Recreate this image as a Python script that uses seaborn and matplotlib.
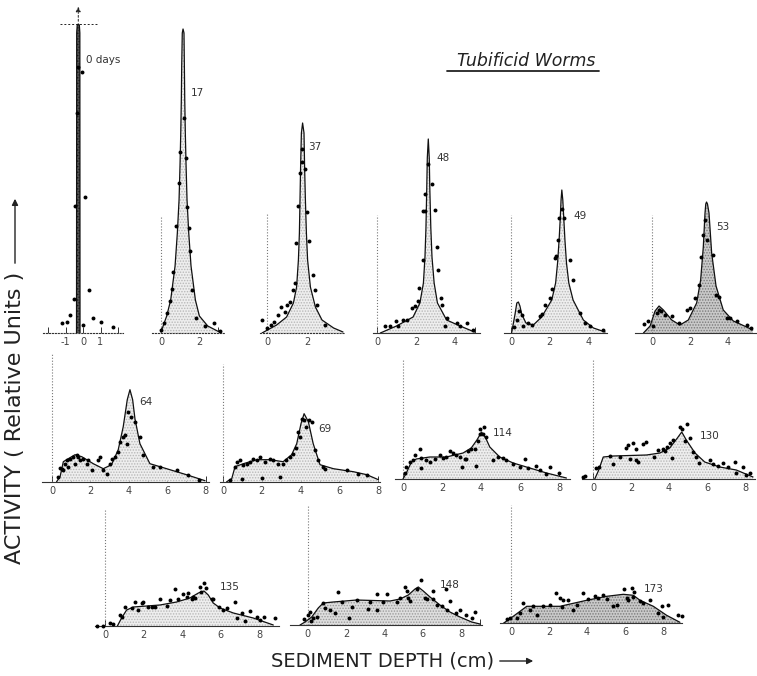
import matplotlib
matplotlib.use("Agg")
import matplotlib.pyplot as plt
from matplotlib.patches import FancyArrowPatch
from matplotlib.lines import Line2D
import seaborn as sns
import math

W, H = 757, 676
YPX = 10  # pixels per activity unit

# ---------------- data (depth in cm, activity in relative units) ----------------
curve0_x = [-0.37, -0.36, -0.33, -0.27, -0.21, -0.18, -0.17]
curve0_y = [0.0, 30.0, 30.8, 30.9, 30.8, 30.0, 0.0]
dots0_x = [-0.29, -0.06, -0.34, -0.46, 0.11, -0.51, 0.34, -0.74, 0.57, -1.2, -0.91, 1.03, 1.71, 0.0]
dots0_y = [26.6, 26.1, 22.0, 12.7, 13.6, 3.4, 4.3, 1.8, 1.5, 1.0, 1.1, 1.1, 0.6, 0.8]

curve17_x = [0.0, 0.3, 0.51, 0.74, 0.86, 0.95, 1.0, 1.04, 1.07, 1.09, 1.12, 1.16, 1.21, 1.23,
             1.25, 1.28, 1.32, 1.37, 1.46, 1.58, 1.81, 2.02, 2.46, 3.07]
curve17_y = [0.1, 1.7, 3.3, 6.7, 10.0, 13.3, 16.7, 20.0, 23.3, 26.7, 30.0, 30.4, 30.0, 26.7,
             23.3, 20.0, 16.7, 13.3, 10.0, 6.7, 3.3, 1.7, 0.7, 0.1]
dots17_x = [1.21, 1.0, 1.32, 0.95, 1.37, 0.79, 1.47, 1.53, 0.63, 1.63, 0.58, 0.47, 0.32, 0.16,
            0.0, 1.84, 2.32, 2.79, 3.1]
dots17_y = [21.5, 18.1, 17.5, 15.0, 12.6, 10.7, 10.5, 8.2, 6.1, 4.3, 4.4, 3.2, 2.0, 1.0,
            0.3, 1.5, 0.7, 1.0, 0.2]

curve37_x = [-0.25, 0.48, 0.98, 1.32, 1.48, 1.57, 1.62, 1.65, 1.68, 1.72, 1.78, 1.85, 1.88,
             1.92, 1.97, 2.03, 2.17, 2.42, 2.75, 3.33, 3.8]
curve37_y = [0.0, 0.8, 1.6, 3.0, 4.6, 7.3, 10.0, 13.3, 16.6, 20.0, 21.0, 20.0, 16.6,
             13.3, 10.0, 7.3, 4.6, 2.6, 1.3, 0.5, 0.1]
dots37_x = [1.77, 1.75, 1.65, 1.9, 1.55, 2.0, 2.1, 1.45, 2.3, 1.4, 2.4, 2.5, 1.3, 1.15, 1.0,
            0.9, 0.7, 0.55, 0.35, 0.2, 0.0, -0.25, 2.9]
dots37_y = [18.4, 17.1, 16.0, 16.4, 12.7, 12.1, 9.2, 9.0, 5.8, 5.0, 4.3, 2.8, 4.3, 3.1, 2.8,
            2.1, 2.6, 1.8, 1.1, 0.8, 0.5, 1.3, 0.8]

curve48_x = [0.17, 1.0, 1.85, 2.2, 2.38, 2.46, 2.51, 2.55, 2.58, 2.63, 2.68, 2.71, 2.76, 2.82,
             2.93, 3.1, 3.57, 4.26, 5.0]
curve48_y = [0.0, 0.7, 1.6, 3.0, 5.0, 7.6, 10.5, 14.3, 17.5, 19.4, 17.5, 14.3, 10.5, 7.6,
             5.0, 3.0, 1.3, 0.7, 0.1]
dots48_x = [2.63, 2.8, 2.46, 2.37, 2.46, 2.97, 3.06, 2.34, 3.11, 2.17, 3.26, 3.31, 2.12, 1.78,
            1.95, 3.57, 3.49, 4.09, 4.6, 4.26, 1.52, 1.35, 0.97, 1.09, 0.67, 0.41, 4.9]
dots48_y = [16.9, 14.9, 13.9, 12.2, 12.2, 12.3, 8.6, 7.3, 6.3, 4.5, 3.5, 2.8, 3.2, 2.5,
            2.7, 1.5, 0.7, 1.0, 1.0, 0.7, 1.3, 1.3, 1.2, 0.7, 0.7, 0.7, 0.3]

curve49_x = [0.03, 0.2, 0.3, 0.38, 0.46, 0.55, 0.77, 1.15, 1.58, 2.1, 2.3, 2.4, 2.48, 2.54,
             2.58, 2.62, 2.67, 2.72, 2.78, 2.86, 2.98, 3.2, 3.73, 4.25, 4.85]
curve49_y = [0.0, 1.8, 3.0, 3.1, 2.7, 1.9, 1.0, 0.8, 1.6, 3.3, 5.0, 7.0, 9.3, 11.5,
             13.3, 14.3, 13.3, 11.5, 9.3, 7.0, 5.0, 3.3, 1.3, 0.5, 0.1]
dots49_x = [2.64, 2.47, 2.73, 2.32, 2.27, 3.04, 2.4, 3.2, 2.1, 2.01, 1.75, 1.58, 1.5, 3.56,
            3.82, 4.07, 4.72, 0.41, 0.55, 0.64, 0.3, 0.9, 1.1, 0.17]
dots49_y = [12.4, 11.5, 11.5, 7.7, 7.5, 7.3, 9.3, 5.3, 4.4, 3.5, 2.8, 1.9, 1.7, 2.0,
            1.0, 0.7, 0.3, 2.2, 1.8, 0.7, 1.3, 1.0, 0.8, 0.6]

curve53_x = [-0.45, -0.1, 0.16, 0.37, 0.6, 1.04, 1.47, 1.91, 2.35, 2.56, 2.7, 2.79, 2.83,
             2.87, 2.92, 3.0, 3.14, 3.37, 3.75, 4.28, 4.98, 5.3]
curve53_y = [0.0, 0.7, 2.2, 2.7, 2.3, 1.3, 0.8, 1.3, 3.0, 5.3, 8.6, 12.0, 12.9,
             13.1, 12.9, 12.0, 8.0, 4.7, 2.3, 1.2, 0.6, 0.3]
dots53_x = [2.79, 2.7, 2.91, 2.6, 3.22, 2.49, 3.37, 3.5, 2.26, 2.0, 1.83, 3.93, 4.1, 4.46,
            5.0, 0.37, 0.25, 0.49, 0.67, 1.04, 1.44, -0.42, -0.2, 0.07, 5.2]
dots53_y = [11.3, 9.8, 9.3, 7.6, 7.8, 4.8, 3.8, 3.6, 3.5, 2.5, 2.3, 1.5, 1.5, 1.2,
            0.8, 2.3, 2.0, 2.2, 1.8, 1.7, 1.0, 0.9, 1.2, 0.7, 0.5]

curve64_x = [0.24, 0.42, 0.59, 0.85, 1.2, 1.55, 2.15, 2.67, 3.1, 3.45, 3.71, 3.92, 4.06,
             4.2, 4.32, 4.58, 5.1, 5.97, 7.0, 7.97]
curve64_y = [0.0, 0.5, 2.0, 2.3, 2.7, 2.5, 1.8, 1.3, 1.7, 3.2, 5.5, 8.2, 9.2,
             8.2, 6.3, 3.8, 1.8, 1.3, 0.7, 0.1]
dots64_x = [3.97, 4.1, 4.32, 3.8, 3.68, 3.89, 4.58, 3.54, 3.45, 4.75, 3.28, 3.1, 5.28, 5.62,
            6.49, 7.07, 7.67, 2.5, 2.42, 2.67, 2.84, 2.07, 1.8, 1.63, 1.46, 1.29, 1.37, 1.11,
            0.94, 0.76, 0.68, 0.5, 0.59, 0.33, 0.85, 1.2, 1.89, 3.0, 0.42]
dots64_y = [7.0, 6.5, 6.0, 4.7, 4.5, 3.8, 4.5, 4.0, 3.0, 2.7, 2.5, 2.3, 1.5, 1.5,
            1.2, 0.7, 0.2, 2.5, 2.2, 1.2, 0.8, 1.2, 1.8, 2.3, 2.2, 2.7, 2.5, 2.5,
            2.3, 2.2, 1.8, 1.3, 1.2, 0.5, 1.5, 1.8, 2.2, 1.8, 1.4]

curve69_x = [0.19, 0.45, 0.62, 1.05, 1.74, 2.42, 3.1, 3.54, 3.8, 4.02, 4.18, 4.4, 4.65, 5.0,
             5.69, 6.72, 7.41, 8.01]
curve69_y = [0.0, 0.3, 1.5, 1.8, 2.2, 2.2, 2.0, 2.7, 3.8, 5.8, 6.8, 6.0, 3.8, 1.7,
             1.3, 1.0, 0.7, 0.2]
dots69_x = [4.05, 4.18, 4.45, 4.57, 4.3, 3.88, 3.97, 3.76, 4.74, 3.62, 4.91, 5.13, 5.24, 6.38,
            6.97, 7.4, 0.62, 0.71, 0.88, 1.05, 1.22, 1.4, 1.56, 1.74, 1.91, 2.16, 2.42, 2.6,
            2.85, 3.1, 3.27, 3.44, 0.97, 1.99, 2.94, 0.36]
dots69_y = [6.3, 6.2, 6.2, 6.0, 5.5, 5.0, 4.5, 3.4, 3.2, 2.8, 2.2, 1.5, 1.3, 1.2,
            0.8, 0.7, 1.5, 2.0, 2.2, 1.7, 1.8, 2.0, 2.3, 2.2, 2.5, 2.0, 2.3, 2.2,
            1.8, 1.8, 2.2, 2.5, 0.3, 0.4, 0.5, 0.2]

curve114_x = [0.0, 0.17, 0.43, 0.68, 1.37, 2.22, 3.08, 3.5, 3.79, 4.03, 4.24, 4.45, 4.96,
              5.65, 6.5, 7.36, 8.38]
curve114_y = [0.0, 0.6, 1.7, 2.0, 2.2, 2.2, 2.6, 3.1, 3.9, 4.7, 4.1, 3.2, 2.2,
              1.6, 1.1, 0.6, 0.1]
dots114_x = [3.94, 4.17, 3.94, 4.1, 3.85, 4.27, 3.68, 3.5, 3.33, 3.25, 3.16, 2.91, 2.73, 2.56,
             2.4, 2.22, 2.05, 1.88, 1.63, 1.37, 1.2, 0.94, 0.85, 0.6, 0.51, 0.34, 0.17, 0.09,
             0.94, 3.0, 3.76, 4.62, 4.88, 5.13, 5.3, 5.64, 5.98, 6.24, 6.41, 6.84, 7.0, 7.52,
             7.35, 8.0]
dots114_y = [5.0, 5.2, 4.5, 4.5, 3.8, 4.2, 3.0, 3.0, 2.8, 2.0, 2.0, 2.2, 2.4, 2.6,
             2.8, 2.2, 2.1, 2.4, 2.0, 1.7, 1.9, 2.1, 3.0, 2.4, 1.9, 1.7, 1.2, 0.6,
             1.1, 1.2, 1.3, 1.9, 2.2, 2.1, 1.9, 1.5, 1.2, 2.0, 1.1, 1.3, 0.9, 1.2,
             0.5, 0.6]

curve130_x = [0.09, 0.28, 0.54, 1.07, 2.82, 3.52, 4.04, 4.44, 4.67, 4.91, 5.37, 5.88, 6.67,
              7.54, 8.42]
curve130_y = [0.0, 0.8, 2.2, 2.3, 2.4, 2.6, 3.1, 4.1, 4.7, 3.9, 2.6, 1.7, 1.2,
              0.9, 0.2]
dots130_x = [4.58, 4.7, 4.93, 5.09, 4.83, 4.23, 4.05, 3.91, 3.79, 3.7, 3.44, 3.19, 4.14, 5.26,
             5.44, 5.6, 6.14, 6.32, 6.58, 6.84, 7.1, 7.46, 7.54, 7.89, 8.07, 8.25, 1.07, 0.89,
             1.75, 1.84, 2.1, 2.63, 2.81, 2.28, 2.28, 2.37, 1.93, 1.4, 0.18, 0.32, -0.53, -0.4]
dots130_y = [5.2, 5.0, 5.5, 4.1, 3.8, 3.9, 3.6, 3.2, 2.8, 3.0, 2.9, 2.2, 2.1, 2.7,
             2.2, 1.6, 1.9, 1.5, 1.3, 1.6, 1.2, 1.7, 0.6, 1.2, 0.4, 0.6, 1.5, 2.3,
             3.1, 3.4, 3.6, 3.5, 3.7, 3.0, 1.9, 1.7, 2.0, 2.2, 1.1, 1.2, 0.2, 0.3]

curve135_x = [0.64, 0.86, 1.12, 1.47, 2.16, 2.85, 3.71, 4.4, 4.84, 5.13, 5.35, 5.61, 5.96,
              6.65, 7.68, 8.72]
curve135_y = [0.0, 0.8, 1.6, 1.9, 2.0, 2.1, 2.4, 2.8, 3.3, 3.5, 3.1, 2.3, 1.8,
              1.3, 0.8, 0.1]
dots135_x = [5.13, 4.92, 5.23, 4.97, 4.58, 4.5, 4.66, 3.63, 4.06, 4.23, 4.32, 3.8, 3.37, 2.85,
             1.99, 1.92, 1.55, 1.38, 1.04, 1.72, 2.24, 2.41, 2.59, 3.19, 5.53, 5.62, 5.93, 6.13,
             6.3, 6.74, 7.08, 6.82, 7.26, 7.52, 7.86, 8.03, 8.24, 8.81, 0.78, 0.86, 0.26, 0.43,
             -0.4, -0.1]
dots135_y = [4.3, 3.9, 3.8, 3.4, 2.9, 2.7, 2.8, 3.7, 3.2, 2.9, 3.3, 2.7, 2.6, 2.7,
             2.4, 2.3, 2.4, 1.8, 1.9, 1.6, 1.9, 1.9, 1.9, 2.0, 2.7, 2.7, 1.9, 1.6,
             1.8, 2.4, 1.3, 0.8, 0.5, 1.5, 0.9, 0.6, 0.9, 0.8, 1.1, 0.9, 0.3, 0.2,
             0.0, 0.0]

curve148_x = [-0.39, -0.13, 0.22, 0.56, 0.82, 1.34, 2.56, 4.3, 4.82, 5.25, 5.6, 5.77, 6.03,
              6.38, 6.9, 7.42, 7.94, 8.55, 8.98]
curve148_y = [0.0, 0.3, 0.8, 1.7, 2.2, 2.3, 2.5, 2.4, 2.6, 3.0, 3.6, 3.8, 3.4,
              2.8, 2.0, 1.3, 0.8, 0.3, 0.1]
dots148_x = [5.91, 5.08, 5.16, 5.68, 5.25, 5.34, 6.12, 6.2, 6.55, 6.52, 7.21, 7.42, 6.72, 6.98,
             7.24, 7.76, 7.94, 8.28, 8.55, 8.72, 3.6, 4.12, 4.82, 4.64, 3.95, 3.25, 3.6, 3.16,
             2.56, 2.3, 2.18, 1.78, 1.6, 1.43, 1.17, 0.91, 0.82, 0.48, 0.3, 0.13, 0.05, -0.2,
             0.17]
dots148_y = [4.5, 3.8, 3.4, 3.6, 2.7, 2.4, 2.7, 2.6, 2.6, 3.4, 3.6, 2.4, 2.0, 1.9,
             1.5, 1.2, 1.5, 1.0, 0.7, 1.3, 3.1, 3.1, 2.7, 2.3, 2.3, 2.3, 1.5, 1.6,
             2.5, 1.8, 0.7, 2.3, 3.3, 1.2, 1.5, 1.7, 2.2, 0.8, 0.7, 1.3, 1.0, 0.6,
             0.4]

curve173_x = [-0.4, 0.12, 0.83, 1.53, 2.58, 3.98, 5.04, 5.91, 6.44, 6.79, 7.49, 8.19, 8.89]
curve173_y = [0.0, 0.7, 1.7, 1.7, 1.7, 2.3, 2.7, 2.9, 2.8, 2.3, 1.7, 0.8, 0.1]
dots173_x = [5.95, 6.35, 6.47, 6.44, 6.09, 6.18, 6.79, 6.96, 7.31, 7.93, 8.28, 7.75, 8.0, 8.81,
             8.98, 2.37, 2.58, 2.75, 3.02, 3.81, 4.07, 4.42, 4.6, 4.86, 5.04, 5.39, 5.56, 3.28,
             3.46, 2.67, 2.05, 1.7, 1.18, 0.65, 1.0, 0.47, 0.3, -0.05, -0.23, 1.35]
dots173_y = [3.4, 3.5, 3.1, 2.6, 2.5, 2.3, 2.2, 2.0, 2.3, 1.7, 1.8, 1.0, 0.6, 0.8,
             0.7, 3.0, 2.5, 2.3, 2.3, 3.0, 2.4, 2.7, 2.5, 2.8, 2.4, 1.7, 1.8, 1.3,
             1.8, 1.6, 1.8, 1.7, 1.7, 2.0, 1.3, 1.0, 0.5, 0.5, 0.4, 0.8]

day_labels = ["0 days", "17", "37", "48", "49", "53", "64", "69", "114", "130", "135", "148", "173"]

# ---------------- layout (pixel geometry of each small panel) ----------------
LIGHT = ("#eeeeee", "#b8b8b8")
MID = ("#dedede", "#9a9a9a")
DARK = ("#c9c9c9", "#7a7a7a")

panels = [
    dict(cx=curve0_x, cy=curve0_y, dx=dots0_x, dy=dots0_y, x0=83, ppu=17.5, base=333,
         xlim=(-2.3, 2.3), vtop=None, lab=(0.17, 27.3), ticks=[-1, 0, 1], dotted=True,
         shade=("#5a5a5a", "#111111")),
    dict(cx=curve17_x, cy=curve17_y, dx=dots17_x, dy=dots17_y, x0=161, ppu=19, base=333,
         xlim=(-0.5, 3.3), vtop=11.7, lab=(1.9, 24.0), ticks=[0, 2], dotted=True, shade=LIGHT),
    dict(cx=curve37_x, cy=curve37_y, dx=dots37_x, dy=dots37_y, x0=267, ppu=20, base=333,
         xlim=(-0.35, 3.9), vtop=12.0, lab=(2.4, 18.6), ticks=[0, 2], dotted=True, shade=LIGHT),
    dict(cx=curve48_x, cy=curve48_y, dx=dots48_x, dy=dots48_y, x0=377, ppu=19.5, base=333,
         xlim=(-0.2, 5.3), vtop=11.8, lab=(3.38, 17.5), ticks=[0, 2, 4], dotted=False, shade=LIGHT),
    dict(cx=curve49_x, cy=curve49_y, dx=dots49_x, dy=dots49_y, x0=511, ppu=19.4, base=333,
         xlim=(-0.35, 4.95), vtop=11.8, lab=(3.56, 11.7), ticks=[0, 2, 4], dotted=False, shade=LIGHT),
    dict(cx=curve53_x, cy=curve53_y, dx=dots53_x, dy=dots53_y, x0=652, ppu=19, base=333,
         xlim=(-0.9, 5.5), vtop=11.8, lab=(3.74, 10.6), ticks=[0, 2, 4], dotted=False, shade=DARK),
    dict(cx=curve64_x, cy=curve64_y, dx=dots64_x, dy=dots64_y, x0=52, ppu=19.2, base=481.7,
         xlim=(-0.52, 8.2), vtop=12.8, lab=(4.88, 8.0), ticks=[0, 2, 4, 6, 8], dotted=False, shade=LIGHT),
    dict(cx=curve69_x, cy=curve69_y, dx=dots69_x, dy=dots69_y, x0=223, ppu=19.4, base=481.7,
         xlim=(-0.15, 8.1), vtop=11.8, lab=(5.26, 5.3), ticks=[0, 2, 4, 6, 8], dotted=False, shade=LIGHT),
    dict(cx=curve114_x, cy=curve114_y, dx=dots114_x, dy=dots114_y, x0=403, ppu=19.5, base=479,
         xlim=(-0.4, 8.55), vtop=12.0, lab=(5.14, 4.6), ticks=[0, 2, 4, 6, 8], dotted=False, shade=LIGHT),
    dict(cx=curve130_x, cy=curve130_y, dx=dots130_x, dy=dots130_y, x0=593, ppu=19, base=479,
         xlim=(-0.6, 8.5), vtop=12.0, lab=(6.16, 4.3), ticks=[0, 2, 4, 6, 8], dotted=False, shade=LIGHT),
    dict(cx=curve135_x, cy=curve135_y, dx=dots135_x, dy=dots135_y, x0=105, ppu=19.3, base=626,
         xlim=(-0.52, 9.0), vtop=11.6, lab=(6.48, 3.9), ticks=[0, 2, 4, 6, 8], dotted=False, shade=LIGHT),
    dict(cx=curve148_x, cy=curve148_y, dx=dots148_x, dy=dots148_y, x0=307.5, ppu=19.2, base=625,
         xlim=(-0.9, 9.1), vtop=12.0, lab=(7.42, 4.0), ticks=[-1, 0, 2, 4, 6, 8], dotted=False, shade=MID),
    dict(cx=curve173_x, cy=curve173_y, dx=dots173_x, dy=dots173_y, x0=511, ppu=19, base=623.3,
         xlim=(-0.58, 9.0), vtop=11.8, lab=(7.49, 3.4), ticks=[0, 2, 4, 6, 8], dotted=False, shade=DARK),
]

sns.set_theme(style="white")
plt.rcParams["font.family"] = ["DejaVu Sans"]
plt.rcParams["hatch.linewidth"] = 0.7

fig = plt.figure(figsize=(W / 100, H / 100), dpi=100)
fig.patch.set_facecolor("white")

for p, day in zip(panels, day_labels):
    xmin, xmax = p["xlim"]
    ytop = max(max(p["cy"]), p["vtop"] or 0, p["lab"][1]) + 1.5
    if p["vtop"] is None:
        ytop = 33.5
    ax = fig.add_axes([(p["x0"] + xmin * p["ppu"]) / W, 1 - p["base"] / H,
                       (xmax - xmin) * p["ppu"] / W, ytop * YPX / H])
    ax.set_xlim(xmin, xmax)
    ax.set_ylim(0, ytop)
    ax.patch.set_alpha(0)
    for s in ["top", "right", "left"]:
        ax.spines[s].set_visible(False)
    ax.spines["bottom"].set_color("#333333")
    ax.spines["bottom"].set_linewidth(0.8)
    if p["dotted"]:
        ax.spines["bottom"].set_linestyle(":")

    face, hatch_col = p["shade"]
    ax.fill_between(p["cx"], p["cy"], 0, facecolor=face, edgecolor=hatch_col,
                    hatch="......", linewidth=0, zorder=1)
    sns.lineplot(x=p["cx"], y=p["cy"], ax=ax, color="#111111", linewidth=0.9,
                 sort=False, estimator=None, legend=False, zorder=3)
    sns.scatterplot(x=p["dx"], y=p["dy"], ax=ax, s=8, color="black", linewidth=0,
                    legend=False, zorder=4, clip_on=False)

    if p["vtop"] is not None:
        ax.vlines(0, 0, p["vtop"], colors="#777777", linestyles=":", linewidth=0.8)
    else:
        # arrow and cross hair above the 0-day spike
        peak_x = p["cx"][3]
        ax.annotate("", xy=(peak_x, 32.9), xytext=(peak_x, p["cy"][3]),
                    arrowprops=dict(arrowstyle="-|>", color="#222222", lw=0.7,
                                    linestyle=(0, (2, 2)), mutation_scale=7),
                    annotation_clip=False)
        ax.hlines(p["cy"][3], -1.31, 0.87, colors="#222222", linestyles=(0, (2, 2)), linewidth=0.7)

    ticks = list(range(math.ceil(xmin + 0.1), math.floor(xmax - 0.1) + 1))
    ax.set_xticks(ticks)
    ax.set_xticklabels([str(t) if t in p["ticks"] else "" for t in ticks])
    ax.set_yticks([])
    ax.tick_params(axis="x", bottom=True, direction="in", length=4, width=0.7,
                   color="#333333", labelsize=7, labelcolor="#444444", pad=3)
    ax.set_xlabel("")
    ax.set_ylabel("")
    ax.text(p["lab"][0], p["lab"][1], day, fontsize=7.5, color="#333333",
            ha="left" if day == "0 days" else "center", va="center")

# title
fig.text(526 / W, 1 - 61 / H, "Tubificid Worms", fontsize=12.5, style="italic",
         color="#222222", ha="center", va="center")
fig.add_artist(Line2D([447 / W, 599 / W], [1 - 71 / H, 1 - 71 / H], color="#222222", lw=1.3))

# axis titles with arrows
fig.text(15 / W, 1 - 418 / H, "ACTIVITY ( Relative Units )", fontsize=16, rotation=90,
         color="#222222", ha="center", va="center")
fig.add_artist(FancyArrowPatch((15 / W, 1 - 266 / H), (15 / W, 1 - 196 / H),
                               transform=fig.transFigure, arrowstyle="-|>",
                               mutation_scale=9, color="#222222", lw=1.0))
fig.text(271 / W, 1 - 661 / H, "SEDIMENT DEPTH (cm)", fontsize=14,
         color="#222222", ha="left", va="center")
fig.add_artist(FancyArrowPatch((497 / W, 1 - 661 / H), (536 / W, 1 - 661 / H),
                               transform=fig.transFigure, arrowstyle="-|>",
                               mutation_scale=9, color="#222222", lw=1.0))

fig.savefig("out.png", dpi=100)
